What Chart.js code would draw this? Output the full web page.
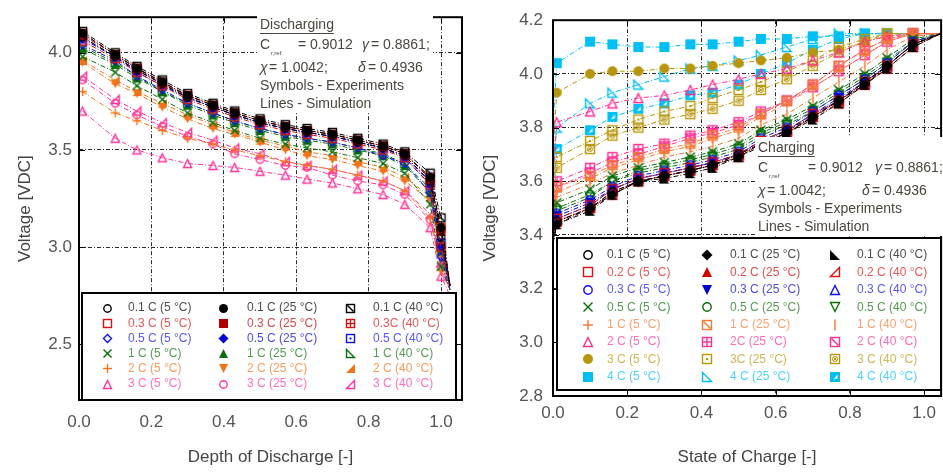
<!DOCTYPE html>
<html>
<head>
<meta charset="utf-8">
<script src="https://cdn.jsdelivr.net/npm/chart.js@4.4.1/dist/chart.umd.min.js"></script>
<style>
  html, body { margin: 0; padding: 0; background: #fff; overflow: hidden; }
  #wrap { position: relative; width: 943px; height: 474px; }
  #discharge-chart { position: absolute; left: 0; top: 0; }
  #charge-chart { position: absolute; left: 470px; top: 0; }
</style>
</head>
<body>
<div id="wrap">
  <canvas id="discharge-chart" width="470" height="474"></canvas>
  <canvas id="charge-chart" width="473" height="474"></canvas>
</div>
<script>
const FONT = '"Liberation Sans", Arial, sans-serif';

// ---- discharge curves: voltage vs depth of discharge ----
const dodX = [0.01, 0.1, 0.16, 0.23, 0.3, 0.37, 0.43, 0.5, 0.57, 0.63, 0.7, 0.77, 0.84, 0.9, 0.97, 1.0, 1.025];

const dis_01C_5 = [4.08, 3.98, 3.91, 3.84, 3.77, 3.72, 3.68, 3.64, 3.61, 3.59, 3.57, 3.54, 3.51, 3.47, 3.34, 3.05, 2.8];
const dis_01C_25 = [4.10, 3.99, 3.92, 3.85, 3.78, 3.73, 3.69, 3.65, 3.62, 3.60, 3.58, 3.55, 3.52, 3.48, 3.36, 3.10, 2.8];
const dis_01C_40 = [4.11, 4.00, 3.93, 3.86, 3.79, 3.74, 3.70, 3.66, 3.63, 3.61, 3.59, 3.56, 3.53, 3.49, 3.38, 3.15, 2.8];
const dis_03C_5 = [4.06, 3.97, 3.90, 3.83, 3.76, 3.71, 3.67, 3.63, 3.60, 3.58, 3.56, 3.53, 3.50, 3.46, 3.32, 3.00, 2.8];
const dis_03C_25 = [4.09, 3.99, 3.92, 3.84, 3.78, 3.73, 3.69, 3.65, 3.62, 3.60, 3.58, 3.55, 3.52, 3.48, 3.35, 3.08, 2.8];
const dis_03C_40 = [4.10, 3.99, 3.92, 3.85, 3.78, 3.73, 3.69, 3.65, 3.62, 3.60, 3.58, 3.55, 3.52, 3.48, 3.36, 3.10, 2.8];
const dis_05C_5 = [4.04, 3.96, 3.88, 3.81, 3.74, 3.69, 3.65, 3.61, 3.58, 3.56, 3.54, 3.51, 3.47, 3.43, 3.28, 2.95, 2.78];
const dis_05C_25 = [4.07, 3.98, 3.90, 3.83, 3.77, 3.72, 3.68, 3.64, 3.61, 3.59, 3.57, 3.54, 3.51, 3.46, 3.32, 3.00, 2.8];
const dis_05C_40 = [4.08, 3.98, 3.91, 3.84, 3.77, 3.72, 3.68, 3.64, 3.61, 3.59, 3.57, 3.54, 3.51, 3.47, 3.33, 3.02, 2.8];
const dis_1C_5 = [3.98, 3.90, 3.83, 3.76, 3.69, 3.64, 3.60, 3.56, 3.53, 3.51, 3.49, 3.46, 3.43, 3.38, 3.22, 2.90, 2.78];
const dis_1C_25 = [4.02, 3.94, 3.87, 3.80, 3.73, 3.68, 3.64, 3.60, 3.57, 3.55, 3.53, 3.50, 3.47, 3.42, 3.28, 2.98, 2.8];
const dis_1C_40 = [4.03, 3.95, 3.88, 3.80, 3.74, 3.69, 3.65, 3.61, 3.58, 3.56, 3.54, 3.51, 3.48, 3.43, 3.30, 3.00, 2.8];
const dis_2C_5 = [3.80, 3.69, 3.65, 3.60, 3.56, 3.53, 3.50, 3.47, 3.44, 3.42, 3.40, 3.37, 3.34, 3.29, 3.15, 2.88, 2.78];
const dis_2C_25 = [3.95, 3.84, 3.79, 3.72, 3.66, 3.61, 3.58, 3.54, 3.50, 3.47, 3.45, 3.42, 3.39, 3.34, 3.24, 2.95, 2.8];
const dis_2C_40 = [3.96, 3.86, 3.80, 3.74, 3.68, 3.63, 3.59, 3.55, 3.52, 3.49, 3.47, 3.44, 3.41, 3.36, 3.26, 2.97, 2.8];
const dis_3C_5 = [3.70, 3.56, 3.50, 3.46, 3.43, 3.42, 3.41, 3.39, 3.37, 3.35, 3.33, 3.30, 3.27, 3.22, 3.10, 2.85, 2.75];
const dis_3C_25 = [3.86, 3.74, 3.68, 3.62, 3.57, 3.53, 3.48, 3.45, 3.42, 3.41, 3.37, 3.34, 3.32, 3.27, 3.14, 2.90, 2.78];
const dis_3C_40 = [3.88, 3.76, 3.70, 3.64, 3.59, 3.55, 3.51, 3.48, 3.44, 3.42, 3.40, 3.37, 3.34, 3.29, 3.17, 2.92, 2.78];

// ---- charge curves: voltage vs state of charge ----
const socX = [0, 0.01, 0.1, 0.16, 0.23, 0.3, 0.37, 0.43, 0.5, 0.56, 0.63, 0.7, 0.77, 0.84, 0.9, 0.97, 1.045];

const chg_01C_5 = [3.38, 3.45, 3.50, 3.56, 3.60, 3.62, 3.64, 3.66, 3.70, 3.74, 3.79, 3.84, 3.90, 3.97, 4.03, 4.11, 4.15];
const chg_01C_25 = [3.37, 3.44, 3.50, 3.55, 3.60, 3.62, 3.64, 3.66, 3.69, 3.74, 3.78, 3.84, 3.90, 3.96, 4.03, 4.11, 4.15];
const chg_01C_40 = [3.36, 3.44, 3.49, 3.55, 3.60, 3.61, 3.63, 3.65, 3.69, 3.73, 3.78, 3.83, 3.89, 3.96, 4.02, 4.10, 4.15];
const chg_02C_5 = [3.39, 3.46, 3.51, 3.57, 3.61, 3.63, 3.65, 3.67, 3.70, 3.75, 3.79, 3.85, 3.90, 3.97, 4.03, 4.11, 4.15];
const chg_02C_25 = [3.38, 3.45, 3.50, 3.56, 3.60, 3.62, 3.64, 3.66, 3.70, 3.74, 3.78, 3.84, 3.90, 3.96, 4.03, 4.11, 4.15];
const chg_02C_40 = [3.37, 3.45, 3.50, 3.55, 3.60, 3.62, 3.64, 3.66, 3.69, 3.74, 3.78, 3.84, 3.89, 3.96, 4.02, 4.10, 4.15];
const chg_03C_5 = [3.40, 3.48, 3.53, 3.58, 3.62, 3.64, 3.66, 3.68, 3.71, 3.76, 3.80, 3.86, 3.92, 3.98, 4.04, 4.12, 4.15];
const chg_03C_25 = [3.39, 3.47, 3.52, 3.57, 3.61, 3.63, 3.65, 3.67, 3.70, 3.75, 3.79, 3.85, 3.91, 3.97, 4.03, 4.11, 4.15];
const chg_03C_40 = [3.38, 3.46, 3.51, 3.57, 3.61, 3.63, 3.65, 3.67, 3.70, 3.75, 3.79, 3.85, 3.90, 3.97, 4.03, 4.11, 4.15];
const chg_05C_5 = [3.42, 3.52, 3.57, 3.62, 3.65, 3.67, 3.69, 3.71, 3.74, 3.79, 3.83, 3.88, 3.94, 4.00, 4.06, 4.13, 4.15];
const chg_05C_25 = [3.41, 3.50, 3.55, 3.60, 3.64, 3.66, 3.68, 3.70, 3.73, 3.78, 3.82, 3.87, 3.93, 3.99, 4.05, 4.12, 4.15];
const chg_05C_40 = [3.40, 3.49, 3.54, 3.60, 3.63, 3.65, 3.67, 3.69, 3.72, 3.77, 3.81, 3.86, 3.92, 3.98, 4.04, 4.12, 4.15];
const chg_1C_5 = [3.45, 3.56, 3.61, 3.65, 3.68, 3.71, 3.73, 3.76, 3.79, 3.84, 3.89, 3.95, 4.01, 4.07, 4.12, 4.15, 4.15];
const chg_1C_25 = [3.46, 3.58, 3.62, 3.66, 3.69, 3.72, 3.74, 3.77, 3.80, 3.85, 3.90, 3.96, 4.03, 4.09, 4.13, 4.15, 4.15];
const chg_1C_40 = [3.43, 3.54, 3.59, 3.63, 3.66, 3.69, 3.71, 3.73, 3.76, 3.81, 3.85, 3.91, 3.97, 4.03, 4.09, 4.14, 4.15];
const chg_2C_5 = [3.60, 3.82, 3.86, 3.89, 3.91, 3.92, 3.94, 3.96, 3.98, 4.00, 4.02, 4.05, 4.08, 4.12, 4.14, 4.15, 4.15];
const chg_2C_25 = [3.50, 3.60, 3.65, 3.69, 3.72, 3.74, 3.77, 3.79, 3.82, 3.86, 3.90, 3.96, 4.03, 4.09, 4.13, 4.15, 4.15];
const chg_2C_40 = [3.48, 3.58, 3.63, 3.67, 3.70, 3.73, 3.76, 3.78, 3.81, 3.85, 3.90, 3.95, 4.01, 4.07, 4.12, 4.15, 4.15];
const chg_3C_5 = [3.70, 3.93, 4.00, 4.01, 4.01, 4.02, 4.02, 4.03, 4.04, 4.05, 4.06, 4.08, 4.09, 4.12, 4.14, 4.15, 4.15];
const chg_3C_25 = [3.55, 3.69, 3.75, 3.79, 3.83, 3.86, 3.88, 3.91, 3.94, 3.97, 4.01, 4.05, 4.10, 4.13, 4.15, 4.15, 4.15];
const chg_3C_40 = [3.52, 3.65, 3.72, 3.77, 3.80, 3.83, 3.85, 3.87, 3.90, 3.94, 3.98, 4.03, 4.08, 4.12, 4.15, 4.15, 4.15];
const chg_4C_5 = [3.80, 4.04, 4.12, 4.11, 4.10, 4.10, 4.11, 4.11, 4.12, 4.13, 4.13, 4.14, 4.14, 4.15, 4.15, 4.15, 4.15];
const chg_4C_25 = [3.65, 3.80, 3.89, 3.93, 3.96, 3.99, 4.02, 4.03, 4.05, 4.07, 4.10, 4.13, 4.15, 4.15, 4.15, 4.15, 4.15];
const chg_4C_40 = [3.58, 3.72, 3.79, 3.84, 3.87, 3.89, 3.92, 3.93, 3.96, 4.00, 4.04, 4.09, 4.13, 4.15, 4.15, 4.15, 4.15];

const dodTicks = [0, 0.2, 0.4, 0.6, 0.8, 1.0];
const dischargeVTicks = [2.5, 3.0, 3.5, 4.0];
const socTicks = [0, 0.2, 0.4, 0.6, 0.8, 1.0];
const chargeVTicks = [2.8, 3.0, 3.2, 3.4, 3.6, 3.8, 4.0, 4.2];

// label, values, colour, marker  (rows = C-rate, columns = temperature)
const dischargeSeries = [
  ['0.1 C (5 °C)', dis_01C_5, '#000000', 'o'],
  ['0.1 C (25 °C)', dis_01C_25, '#000000', 'O'],
  ['0.1 C (40 °C)', dis_01C_40, '#000000', 'sd'],
  ['0.3 C (5 °C)', dis_03C_5, '#d81010', 's'],
  ['0.3 C (25 °C)', dis_03C_25, '#b00000', 'S'],
  ['0.3C (40 °C)', dis_03C_40, '#d81010', 'sg'],
  ['0.5 C (5 °C)', dis_05C_5, '#1010ee', 'd'],
  ['0.5 C (25 °C)', dis_05C_25, '#0000cc', 'D'],
  ['0.5 C (40 °C)', dis_05C_40, '#1010ee', 'sdot'],
  ['1 C (5 °C)', dis_1C_5, '#0a6e0a', 'x'],
  ['1 C (25 °C)', dis_1C_25, '#0a6e0a', 'T'],
  ['1 C (40 °C)', dis_1C_40, '#0a6e0a', 'rl'],
  ['2 C (5 °C)', dis_2C_5, '#f27318', '+'],
  ['2 C (25 °C)', dis_2C_25, '#f27318', 'V'],
  ['2 C (40 °C)', dis_2C_40, '#f27318', 'RR'],
  ['3 C (5 °C)', dis_3C_5, '#ff3399', 't'],
  ['3 C (25 °C)', dis_3C_25, '#ff3399', 'o'],
  ['3 C (40 °C)', dis_3C_40, '#ff3399', 'rr'],
];

const chargeSeries = [
  ['0.1 C (5 °C)', chg_01C_5, '#000000', 'o'],
  ['0.1 C (25 °C)', chg_01C_25, '#000000', 'D'],
  ['0.1 C (40 °C)', chg_01C_40, '#000000', 'RL'],
  ['0.2 C (5 °C)', chg_02C_5, '#e01010', 's'],
  ['0.2 C (25 °C)', chg_02C_25, '#d00000', 'T'],
  ['0.2 C (40 °C)', chg_02C_40, '#e01010', 'rr'],
  ['0.3 C (5 °C)', chg_03C_5, '#1010ee', 'o'],
  ['0.3 C (25 °C)', chg_03C_25, '#0000cc', 'V'],
  ['0.3 C (40 °C)', chg_03C_40, '#1010ee', 't'],
  ['0.5 C (5 °C)', chg_05C_5, '#0a6e0a', 'x'],
  ['0.5 C (25 °C)', chg_05C_25, '#0a6e0a', 'o'],
  ['0.5 C (40 °C)', chg_05C_40, '#0a6e0a', 'v'],
  ['1 C (5 °C)', chg_1C_5, '#f47a30', '+'],
  ['1 C (25 °C)', chg_1C_25, '#f47a30', 'sd'],
  ['1 C (40 °C)', chg_1C_40, '#f47a30', '|'],
  ['2 C (5 °C)', chg_2C_5, '#ff2e93', 't'],
  ['2C (25 °C)', chg_2C_25, '#ff2e93', 'sg'],
  ['2 C (40 °C)', chg_2C_40, '#ff2e93', 'sd'],
  ['3 C (5 °C)', chg_3C_5, '#b8960c', 'O'],
  ['3C (25 °C)', chg_3C_25, '#b8960c', 'sdot'],
  ['3 C (40 °C)', chg_3C_40, '#b8960c', 'sox'],
  ['4 C (5 °C)', chg_4C_5, '#00bff3', 'S'],
  ['4 C (25 °C)', chg_4C_25, '#00bff3', 'rl'],
  ['4 C (40 °C)', chg_4C_40, '#00bff3', 'Sh'],
];

// small canvases used as point styles
function makeMarker(kind, color, size) {
  const pad = 2;
  const n = size + pad * 2;
  const c = document.createElement("canvas");
  c.width = n;
  c.height = n;
  const g = c.getContext("2d");
  const a = pad + 0.5, b = n - pad - 0.5, m = n / 2, r = size / 2;
  g.strokeStyle = color;
  g.fillStyle = color;
  g.lineWidth = 1.4;
  const poly = (pts, filled) => {
    g.beginPath();
    pts.forEach(([px, py], i) => (i ? g.lineTo(px, py) : g.moveTo(px, py)));
    g.closePath();
    filled ? g.fill() : g.stroke();
  };
  const line = (x1, y1, x2, y2) => {
    g.beginPath();
    g.moveTo(x1, y1);
    g.lineTo(x2, y2);
    g.stroke();
  };
  switch (kind) {
    case "o":
      g.beginPath(); g.arc(m, m, r - 0.8, 0, Math.PI * 2); g.stroke(); break;
    case "O":
      g.beginPath(); g.arc(m, m, r, 0, Math.PI * 2); g.fill(); break;
    case "s":
      g.strokeRect(a, a, b - a, b - a); break;
    case "S":
      g.fillRect(pad, pad, size, size); break;
    case "sd":
      g.strokeRect(a, a, b - a, b - a); line(a + 1, a + 1, b - 1, b - 1); break;
    case "sg":
      g.strokeRect(a, a, b - a, b - a); line(m, a, m, b); line(a, m, b, m); break;
    case "sdot":
      g.strokeRect(a, a, b - a, b - a); g.fillRect(m - 1, m - 1, 2, 2); break;
    case "sox":
      g.strokeRect(a, a, b - a, b - a);
      g.lineWidth = 1;
      g.beginPath(); g.arc(m, m, r * 0.5, 0, Math.PI * 2); g.stroke();
      line(m - 2, m - 2, m + 2, m + 2); line(m - 2, m + 2, m + 2, m - 2);
      break;
    case "Sh":
      g.fillRect(pad, pad, size, size);
      g.fillStyle = "#fff";
      poly([[b - 2, a + 2], [b - 2, b - 3], [a + 3, b - 2]], true);
      break;
    case "d":
      poly([[m, a], [b, m], [m, b], [a, m]], false); break;
    case "D":
      poly([[m, pad - 0.5], [n - pad + 0.5, m], [m, n - pad + 0.5], [pad - 0.5, m]], true); break;
    case "x":
      line(a, a, b, b); line(a, b, b, a); break;
    case "+":
      line(m, a - 0.5, m, b + 0.5); line(a - 0.5, m, b + 0.5, m); break;
    case "t":
      poly([[m, a], [b, b], [a, b]], false); break;
    case "T":
      poly([[m, pad], [n - pad, n - pad], [pad, n - pad]], true); break;
    case "v":
      poly([[a, a], [b, a], [m, b]], false); break;
    case "V":
      poly([[pad, pad], [n - pad, pad], [m, n - pad]], true); break;
    case "rl":
      poly([[a, a], [b, b], [a, b]], false); break;
    case "rr":
      poly([[b, a], [b, b], [a, b]], false); break;
    case "RL":
      poly([[pad, pad], [n - pad, n - pad], [pad, n - pad]], true); break;
    case "RR":
      poly([[n - pad, pad], [n - pad, n - pad], [pad, n - pad]], true); break;
    case "|":
      line(m, a - 1, m, b + 1); break;
  }
  return c;
}

// lighter shade for key text
function keyTextColor(hex) {
  const v = parseInt(hex.slice(1), 16);
  const mix = (ch) => Math.round(ch + (255 - ch) * 0.3);
  return `rgb(${mix(v >> 16)}, ${mix((v >> 8) & 255)}, ${mix(v & 255)})`;
}

function buildDatasets(xs, series, markerSize, firstMarker, lastMarker) {
  return series.map(([label, ys, color, kind]) => ({
    label,
    data: xs.map((x, i) => ({ x, y: ys[i] })),
    borderColor: color,
    backgroundColor: color,
    borderWidth: 1,
    borderDash: [5, 2, 1, 2],
    pointStyle: makeMarker(kind, color, markerSize),
    pointRadius: (ctx) => (ctx.dataIndex >= firstMarker && ctx.dataIndex <= lastMarker ? 5 : 0),
    pointHoverRadius: 0,
    tension: 0,
    fill: false,
  }));
}

// frame around the plot area with inward tick marks
const plotFrame = {
  id: "plotFrame",
  afterDatasetsDraw(chart) {
    const { ctx, chartArea: a, scales } = chart;
    ctx.save();
    ctx.strokeStyle = "#000";
    ctx.lineWidth = 1;
    ctx.beginPath();
    scales.x.ticks.forEach((t) => {
      const px = Math.round(scales.x.getPixelForValue(t.value)) + 0.5;
      ctx.moveTo(px, a.bottom); ctx.lineTo(px, a.bottom - 6);
      ctx.moveTo(px, a.top); ctx.lineTo(px, a.top + 6);
    });
    scales.y.ticks.forEach((t) => {
      const py = Math.round(scales.y.getPixelForValue(t.value)) + 0.5;
      ctx.moveTo(a.left, py); ctx.lineTo(a.left + 6, py);
      ctx.moveTo(a.right, py); ctx.lineTo(a.right - 6, py);
    });
    ctx.stroke();
    ctx.lineWidth = 2;
    ctx.strokeRect(a.left, a.top, a.right - a.left, a.bottom - a.top);
    ctx.restore();
  },
};

// symbol key box, three temperature columns
const seriesKey = {
  id: "seriesKey",
  afterDatasetsDraw(chart, args, opts) {
    const { ctx } = chart;
    const { box, rowY, markX, textX } = opts;
    ctx.save();
    ctx.fillStyle = "#fff";
    ctx.fillRect(box.x, box.y, box.w, box.h);
    ctx.strokeStyle = "#000";
    ctx.lineWidth = 2;
    ctx.strokeRect(box.x, box.y, box.w, box.h);
    ctx.font = `12px ${FONT}`;
    ctx.textBaseline = "middle";
    chart.data.datasets.forEach((ds, i) => {
      const row = Math.floor(i / 3), col = i % 3;
      const img = ds.pointStyle;
      const y = rowY[0] + row * opts.rowStep;
      ctx.drawImage(img, Math.round(markX[col] - img.width / 2), Math.round(y - img.height / 2));
      ctx.fillStyle = keyTextColor(ds.borderColor);
      ctx.fillText(ds.label, textX[col], y);
    });
    ctx.restore();
  },
};

// parameter note: title, fitted constants, legend text
const noteBox = {
  id: "noteBox",
  afterDatasetsDraw(chart, args, o) {
    const { ctx } = chart;
    ctx.save();
    ctx.fillStyle = "#fff";
    ctx.fillRect(o.x - 3, o.y, o.w, o.h);
    ctx.fillStyle = "#4a463e";
    ctx.textBaseline = "middle";
    const reg = `14px ${FONT}`, ital = `italic 14px ${FONT}`;
    let y = o.y + 11;
    ctx.font = reg;
    ctx.fillText(o.title, o.x, y);
    ctx.fillRect(o.x, y + 8, ctx.measureText(o.title).width, 1);

    y += 20;
    ctx.fillText("C", o.x, y);
    ctx.font = `6px ${FONT}`;
    ctx.fillText("r,ref", o.x + 11, y + 8);
    ctx.font = reg;
    ctx.fillText("= 0.9012", o.x + o.eqAt, y);
    ctx.font = ital;
    ctx.fillText("γ", o.x + o.gammaAt, y);
    ctx.font = reg;
    ctx.fillText("= 0.8861;", o.x + o.gammaAt + 9, y);

    y += 23;
    ctx.font = ital;
    ctx.fillText("χ", o.x, y);
    ctx.font = reg;
    ctx.fillText("= 1.0042;", o.x + 9, y);
    ctx.font = ital;
    ctx.fillText("δ", o.x + o.deltaAt, y);
    ctx.font = reg;
    ctx.fillText("= 0.4936", o.x + o.deltaAt + 10, y);

    y += 18;
    ctx.fillText("Symbols - Experiments", o.x, y);
    y += 18;
    ctx.fillText("Lines - Simulation", o.x, y);
    ctx.restore();
  },
};

function axisOptions(cfg) {
  return {
    type: "linear",
    min: cfg.min,
    max: cfg.max,
    afterBuildTicks: (s) => {
      s.ticks = cfg.ticks.map((v) => ({ value: v }));
    },
    afterFit: (s) => {
      if (cfg.width) s.width = cfg.width;
      if (cfg.height) s.height = cfg.height;
    },
    ticks: {
      callback: (v) => Number(v).toFixed(1),
      font: { family: FONT, size: 17 },
      color: "#555",
      padding: cfg.tickPad,
      maxRotation: 0,
      autoSkip: false,
    },
    grid: { color: "#2a2a2a", lineWidth: 1, drawTicks: false },
    border: { display: false, dash: [4, 2, 1, 2] },
    title: {
      display: true,
      text: cfg.title,
      font: { family: FONT, size: 17 },
      color: "#444",
      padding: cfg.titlePad,
    },
  };
}

function makeChart(canvas, datasets, cfg) {
  return new Chart(canvas.getContext("2d"), {
    type: "line",
    data: { datasets },
    options: {
      responsive: false,
      animation: false,
      layout: { padding: { top: 12, right: cfg.padRight, left: 0, bottom: 0 } },
      plugins: {
        legend: { display: false },
        tooltip: { enabled: false },
        seriesKey: cfg.key,
        noteBox: cfg.note,
      },
      scales: { x: axisOptions(cfg.x), y: axisOptions(cfg.y) },
    },
    plugins: [plotFrame, seriesKey, noteBox],
  });
}

const dischargeChart = makeChart(
  document.getElementById("discharge-chart"),
  buildDatasets(dodX, dischargeSeries, 9, 0, 15),
  {
    padRight: 8,
    x: { min: 0, max: 1.058, ticks: dodTicks, height: 74, tickPad: 12, title: "Depth of Discharge [-]", titlePad: { top: 0, bottom: 6 } },
    y: { min: 2.213, max: 4.183, ticks: dischargeVTicks, width: 79, tickPad: 7, title: "Voltage [VDC]", titlePad: { top: 15, bottom: 0 } },
    key: { box: { x: 82, y: 293, w: 374, h: 107 }, rowY: [308], rowStep: 15.2, markX: [107, 223, 350], textX: [128, 247, 373] },
    note: { title: "Discharging", x: 260, y: 14, w: 176, h: 98, eqAt: 38, gammaAt: 102, deltaAt: 98 },
  }
);

const chargeChart = makeChart(
  document.getElementById("charge-chart"),
  buildDatasets(socX, chargeSeries, 10, 1, 15),
  {
    padRight: 0,
    x: { min: 0, max: 1.0456, ticks: socTicks, height: 78, tickPad: 7, title: "State of Charge [-]", titlePad: { top: 0, bottom: 6 } },
    y: { min: 2.8, max: 4.2, ticks: chargeVTicks, width: 83, tickPad: 10, title: "Voltage [VDC]", titlePad: { top: 10, bottom: 0 } },
    key: { box: { x: 87, y: 238, w: 384, h: 152 }, rowY: [255], rowStep: 17.4, markX: [118, 237, 365], textX: [137, 260, 387] },
    note: { title: "Charging", x: 288, y: 137, w: 190, h: 99, eqAt: 50, gammaAt: 117, deltaAt: 104 },
  }
);
</script>
</body>
</html>
